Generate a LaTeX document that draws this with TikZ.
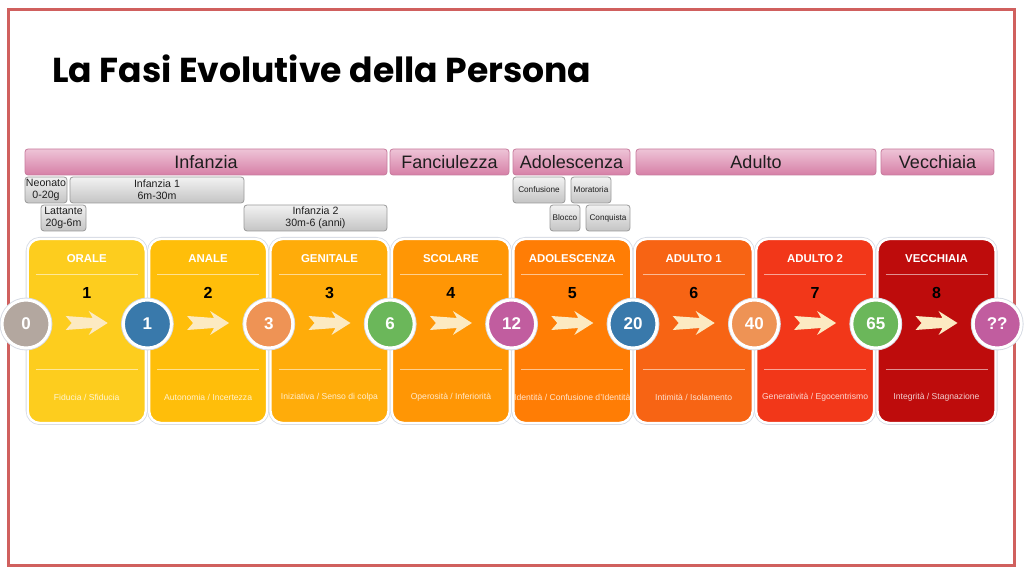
\documentclass[tikz,border=0pt]{standalone}
\usepackage{fontspec}
\setmainfont{Liberation Sans}
\newfontfamily\titlefont{Poppins}
\usepackage{tikz}
\definecolor{frame}{HTML}{D0605E}
\definecolor{ink}{HTML}{1E1E1E}
\definecolor{pinktop}{HTML}{EEC4D7}
\definecolor{pinkbot}{HTML}{D67FA6}
\definecolor{pinkline}{HTML}{C77B9D}
\definecolor{greytop}{HTML}{F2F2F2}
\definecolor{greybot}{HTML}{C4C4C4}
\definecolor{greyline}{HTML}{9A9A9A}
\definecolor{cardline}{HTML}{D5DAE3}
\definecolor{cream}{HTML}{FCEAC2}
\definecolor{c0}{HTML}{FDCD1E}
\definecolor{c1}{HTML}{FFBE0A}
\definecolor{c2}{HTML}{FFAC0A}
\definecolor{c3}{HTML}{FF9605}
\definecolor{c4}{HTML}{FF7D05}
\definecolor{c5}{HTML}{F76414}
\definecolor{c6}{HTML}{F23719}
\definecolor{c7}{HTML}{BE0C0C}
\definecolor{agegrey}{HTML}{B3A79F}
\definecolor{ageblue}{HTML}{3979AB}
\definecolor{ageorange}{HTML}{EE9355}
\definecolor{agegreen}{HTML}{6BB75A}
\definecolor{agepurple}{HTML}{C15D9F}
\tikzset{
  phase/.style={rounded corners=1.5pt, draw=pinkline, line width=0.4pt,
    top color=pinktop, bottom color=pinkbot, text=ink, inner sep=0pt,
    minimum height=13pt, font=\fontsize{9}{10}\selectfont},
  sub/.style={rounded corners=1.5pt, draw=greyline, line width=0.4pt,
    top color=greytop, bottom color=greybot, text=ink, inner sep=0pt,
    minimum height=13pt, align=center, font=\fontsize{5.3}{6}\selectfont},
  subsmall/.style={sub, font=\fontsize{4.1}{5}\selectfont},
  card/.style={rounded corners=6pt, draw=white, line width=1.2pt, inner sep=0pt,
    minimum width=59pt, minimum height=92pt,
    preaction={draw=cardline, line width=2pt}},
  stage/.style={text=white, font=\bfseries\fontsize{5.7}{6}\selectfont},
  num/.style={text=black, font=\bfseries\fontsize{8}{9}\selectfont},
  descr/.style={text=white, text opacity=0.8, font=\fontsize{4.3}{5}\selectfont},
  rule/.style={draw=white, draw opacity=0.55, line width=0.5pt},
  arr/.style={fill=cream},
  age/.style={circle, minimum size=24pt, inner sep=0pt, draw=white, line width=1.5pt,
    preaction={draw=cardline, line width=2.4pt},
    text=white, font=\bfseries\fontsize{8.5}{9}\selectfont},
}
\begin{document}
\begin{tikzpicture}[x=0.5pt, y=-0.5pt]
  \useasboundingbox (0,0) rectangle (1024,576);
  \draw[line width=1.5pt, draw=frame] (8,9.5) rectangle (1014.5,566); % slide frame

  \node[anchor=base west, inner sep=0pt, text=black,
    font=\titlefont\bfseries\fontsize{17.3}{19}\selectfont]
    (title) at (52,83) {La Fasi Evolutive della Persona};

  % life periods
  \node[phase, minimum width=181pt] (infanzia) at (206,162) {Infanzia};
  \node[phase, minimum width=59.5pt] (fanciulezza) at (449.5,162) {Fanciulezza};
  \node[phase, minimum width=58.5pt] (adolescenza) at (571.5,162) {Adolescenza};
  \node[phase, minimum width=120pt] (adulto) at (756,162) {Adulto};
  \node[phase, minimum width=56.5pt] (vecchiaia) at (937.5,162) {Vecchiaia};

  % sub periods
  \node[sub, minimum width=21pt] (neonato) at (46,190) {Neonato\\0-20g};
  \node[sub, minimum width=87pt] (inf1) at (157,190) {Infanzia 1\\6m-30m};
  \node[sub, minimum width=22.5pt] (lattante) at (63.5,218) {Lattante\\20g-6m};
  \node[sub, minimum width=71.5pt] (inf2) at (315.5,218) {Infanzia 2\\30m-6 (anni)};
  \node[subsmall, minimum width=26pt] (confusione) at (539,190) {Confusione};
  \node[subsmall, minimum width=20pt] (moratoria) at (591,190) {Moratoria};
  \node[subsmall, minimum width=15pt] (blocco) at (565,218) {Blocco};
  \node[subsmall, minimum width=22pt] (conquista) at (608,218) {Conquista};

  % stage cards
  \foreach \i/\col/\stagename/\stagetext in {
      0/c0/ORALE/{Fiducia / Sfiducia},
      1/c1/ANALE/{Autonomia / Incertezza},
      2/c2/GENITALE/{Iniziativa / Senso di colpa},
      3/c3/SCOLARE/{Operosità / Inferiorità},
      4/c4/ADOLESCENZA/{Identità / Confusione d'Identità},
      5/c5/ADULTO 1/{Intimità / Isolamento},
      6/c6/ADULTO 2/{Generatività / Egocentrismo},
      7/c7/VECCHIAIA/{Integrità / Stagnazione}} {
    \pgfmathsetmacro\cx{86.7+121.4*\i}
    \node[card, fill=\col] (card\i) at (\cx,331) {};
    \node[stage] (stage\i) at (\cx,259) {\stagename};
    \draw[rule] (\cx-51,275) -- (\cx+51,275);
    \node[num] (num\i) at (\cx,293) {\the\numexpr\i+1\relax};
    \fill[arr, shift={(\cx,323)}] (-21,-7) -- (6,-5) -- (2,-12) -- (21,0)
      -- (2,12) -- (6,5) -- (-21,7) -- (-15,0) -- cycle;
    \draw[rule] (\cx-51,370) -- (\cx+51,370);
    \node[descr] (descr\i) at (\cx,397) {\stagetext};
  }

  % ages
  \node[age, fill=agegrey] (a0) at (26,324) {0};
  \node[age, fill=ageblue] (a1) at (147.4,324) {1};
  \node[age, fill=ageorange] (a3) at (268.8,324) {3};
  \node[age, fill=agegreen] (a6) at (390.2,324) {6};
  \node[age, fill=agepurple] (a12) at (511.6,324) {12};
  \node[age, fill=ageblue] (a20) at (633,324) {20};
  \node[age, fill=ageorange] (a40) at (754.4,324) {40};
  \node[age, fill=agegreen] (a65) at (875.8,324) {65};
  \node[age, fill=agepurple] (aend) at (997.2,324) {??};
\end{tikzpicture}
\end{document}
